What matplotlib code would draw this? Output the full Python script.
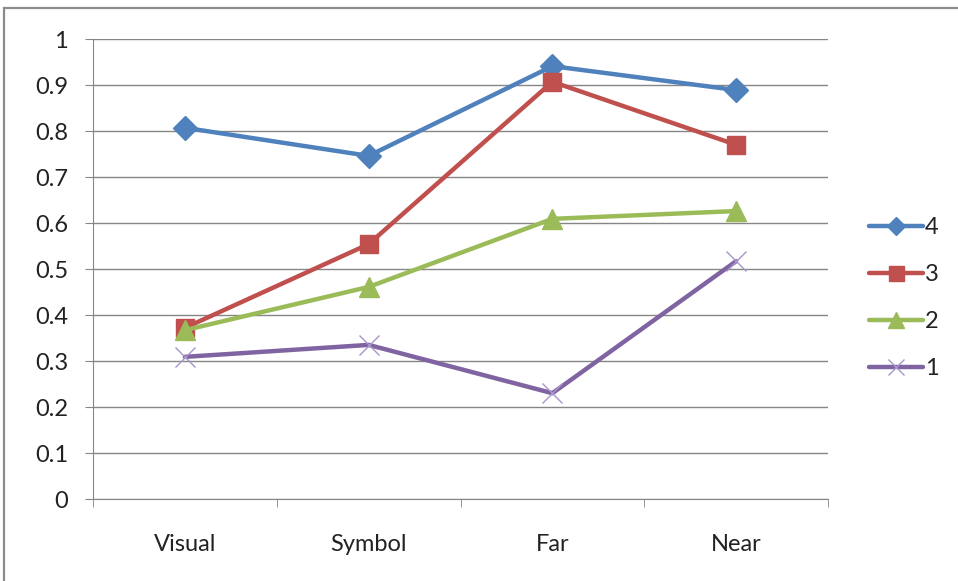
import matplotlib
matplotlib.use("Agg")
import matplotlib.pyplot as plt
from matplotlib.patches import Rectangle

categories = ["Visual", "Symbol", "Far", "Near"]
series_names = ["4", "3", "2", "1"]
s4 = [0.807, 0.746, 0.941, 0.889]
s3 = [0.372, 0.554, 0.907, 0.770]
s2 = [0.367, 0.461, 0.609, 0.626]
s1 = [0.309, 0.335, 0.230, 0.517]
y_ticks = [0, 0.1, 0.2, 0.3, 0.4, 0.5, 0.6, 0.7, 0.8, 0.9, 1]
y_labels = ["0", "0.1", "0.2", "0.3", "0.4", "0.5", "0.6", "0.7", "0.8", "0.9", "1"]

plt.rcParams["font.family"] = ["Lato", "DejaVu Sans"]
FS = 17

fig = plt.figure(figsize=(9.58, 5.81), dpi=100)
fig.patch.set_facecolor("white")
# outer chart frame
fig.patches.append(Rectangle((4 / 958, -0.05), 1.1, 1 - 8 / 581 + 0.05,
                             transform=fig.transFigure, fill=False,
                             edgecolor="#8c8c8c", linewidth=1.6))

ax = fig.add_axes([93 / 958, 1 - 499 / 581, (828 - 93) / 958, (499 - 39) / 581])

styles = [
    (s4, "#4F81BD", "D", 12, "#4F81BD", 1.0),
    (s3, "#C0504D", "s", 13.5, "#C0504D", 1.0),
    (s2, "#9BBB59", "^", 14, "#9BBB59", 1.0),
    (s1, "#8064A2", "x", 15, "#A795CB", 1.0),
]
x = list(range(len(categories)))
for (vals, col, mk, ms, mcol, mew), name in zip(styles, series_names):
    ax.plot(x, vals, color=col, linewidth=3.2, marker=mk, markersize=ms,
            markerfacecolor=mcol, markeredgecolor=mcol,
            markeredgewidth=mew, label=name, solid_capstyle="round",
            solid_joinstyle="round")

ax.set_xlim(-0.5, len(categories) - 0.5)
ax.set_ylim(0, 1)
ax.set_yticks(y_ticks)
ax.set_yticklabels(y_labels)
ax.set_xticks(x)
ax.set_xticklabels(categories)
ax.set_xticks([i - 0.5 for i in range(len(categories) + 1)], minor=True)
ax.tick_params(axis="x", which="major", length=0, pad=25, labelsize=FS, labelcolor="#222222")
ax.tick_params(axis="x", which="minor", length=6, color="#868686", direction="out")
ax.tick_params(axis="y", length=6, color="#868686", direction="out", pad=12,
               labelsize=FS, labelcolor="#222222")
ax.yaxis.grid(True, color="#868686", linewidth=1)
ax.set_axisbelow(True)
for side in ["top", "right"]:
    ax.spines[side].set_visible(False)
ax.spines["left"].set_color("#868686")
ax.spines["bottom"].set_color("#868686")

leg = fig.legend(loc="upper left", bbox_to_anchor=(860 / 958, 1 - 208 / 581),
                 frameon=False, fontsize=FS, labelspacing=1.1,
                 handlelength=2.25, handletextpad=0.1, borderaxespad=0,
                 markerscale=0.8, labelcolor="#222222")

fig.savefig("out.png", dpi=100)
